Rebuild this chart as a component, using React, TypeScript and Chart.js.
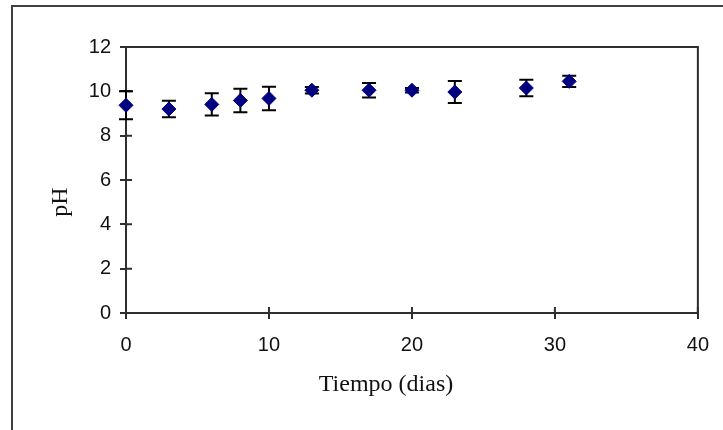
import React, { useEffect, useRef } from "react";
import { Chart, registerables } from "chart.js";

Chart.register(...registerables);

const days = [0, 3, 6, 8, 10, 13, 17, 20, 23, 28, 31];
const phValues = [9.37, 9.2, 9.41, 9.59, 9.68, 10.05, 10.05, 10.05, 9.97, 10.15, 10.45];
const phErrors = [0.63, 0.37, 0.5, 0.53, 0.53, 0.15, 0.33, 0.1, 0.5, 0.37, 0.25];
const xTitle = "Tiempo (dias)";
const yTitle = "pH";

const AXIS_COLOR = "#2e2e2e";

const framePlugin = {
  id: "frameAndExtras",
  beforeDraw(chart: any) {
    const ctx = chart.ctx;
    ctx.save();
    ctx.fillStyle = "#ffffff";
    ctx.fillRect(0, 0, chart.width, chart.height);
    ctx.strokeStyle = "#404040";
    ctx.lineWidth = 2;
    ctx.beginPath();
    ctx.moveTo(12, chart.height + 5);
    ctx.lineTo(12, 6);
    ctx.lineTo(chart.width + 5, 6);
    ctx.stroke();
    ctx.restore();
  },
  beforeDatasetsDraw(chart: any) {
    const ctx = chart.ctx;
    const xs = chart.scales.x;
    const ys = chart.scales.y;
    const area = chart.chartArea;
    ctx.save();
    // plot area box (top and right)
    ctx.strokeStyle = AXIS_COLOR;
    ctx.lineWidth = 2;
    ctx.beginPath();
    ctx.moveTo(area.left, area.top);
    ctx.lineTo(area.right, area.top);
    ctx.lineTo(area.right, area.bottom);
    ctx.stroke();
    // inner halves of the cross tick marks
    ctx.beginPath();
    ys.ticks.forEach((t: any) => {
      const py = ys.getPixelForValue(t.value);
      ctx.moveTo(area.left, py);
      ctx.lineTo(area.left + 6, py);
    });
    xs.ticks.forEach((t: any) => {
      const px = xs.getPixelForValue(t.value);
      ctx.moveTo(px, area.bottom);
      ctx.lineTo(px, area.bottom - 6);
    });
    ctx.stroke();
    // error bars
    ctx.strokeStyle = "#000000";
    ctx.lineWidth = 2;
    ctx.beginPath();
    days.forEach((d, i) => {
      const px = xs.getPixelForValue(d);
      const top = ys.getPixelForValue(phValues[i] + phErrors[i]);
      const bot = ys.getPixelForValue(phValues[i] - phErrors[i]);
      ctx.moveTo(px, top);
      ctx.lineTo(px, bot);
      ctx.moveTo(px - 7, top);
      ctx.lineTo(px + 7, top);
      ctx.moveTo(px - 7, bot);
      ctx.lineTo(px + 7, bot);
    });
    ctx.stroke();
    ctx.restore();
  },
  afterDraw(chart: any) {
    const ctx = chart.ctx;
    const area = chart.chartArea;
    ctx.save();
    ctx.fillStyle = "#111111";
    ctx.font = "24px 'Liberation Serif', 'Times New Roman', serif";
    ctx.textAlign = "center";
    ctx.textBaseline = "middle";
    ctx.fillText(xTitle, area.left + 260, area.bottom + 72);
    ctx.translate(area.left - 65, area.top + 155);
    ctx.rotate(-Math.PI / 2);
    ctx.fillText(yTitle, 0, 0);
    ctx.restore();
  },
};

export default function App() {
  const canvasRef = useRef<HTMLCanvasElement | null>(null);

  useEffect(() => {
    if (!canvasRef.current) return;
    const tickFont = { family: "'Liberation Sans', Arial, sans-serif", size: 20 };
    const chart = new Chart(canvasRef.current, {
      type: "scatter",
      data: {
        datasets: [
          {
            label: "pH",
            data: days.map((d, i) => ({ x: d, y: phValues[i] })),
            pointStyle: "rectRot",
            pointRadius: 7,
            pointHoverRadius: 7,
            backgroundColor: "#000080",
            borderColor: "#000080",
            borderWidth: 1,
            clip: false as any,
          },
        ],
      },
      options: {
        animation: false,
        responsive: false,
        maintainAspectRatio: false,
        events: [],
        layout: { padding: { left: 12, top: 47, right: 23, bottom: 0 } },
        plugins: {
          legend: { display: false },
          tooltip: { enabled: false },
          title: { display: false },
        },
        scales: {
          x: {
            type: "linear",
            min: 0,
            max: 40,
            ticks: { stepSize: 10, font: tickFont, color: "#111111", padding: 14, maxRotation: 0 },
            grid: {
              display: true,
              drawOnChartArea: false,
              drawTicks: true,
              tickLength: 6,
              color: AXIS_COLOR,
              lineWidth: 2,
            },
            border: { display: true, color: AXIS_COLOR, width: 2 },
            title: { display: false },
            afterFit: (scale: any) => {
              scale.height = 117;
            },
          },
          y: {
            type: "linear",
            min: 0,
            max: 12,
            ticks: { stepSize: 2, font: tickFont, color: "#111111", padding: 9 },
            grid: {
              display: true,
              drawOnChartArea: false,
              drawTicks: true,
              tickLength: 6,
              color: AXIS_COLOR,
              lineWidth: 2,
            },
            border: { display: true, color: AXIS_COLOR, width: 2 },
            title: { display: false },
            afterFit: (scale: any) => {
              scale.width = 114;
            },
          },
        },
      },
      plugins: [framePlugin],
    });
    return () => chart.destroy();
  }, []);

  return (
    <div style={{ position: "absolute", left: 0, top: 0, width: 723, height: 430, background: "#fff" }}>
      <canvas ref={canvasRef} width={723} height={430} style={{ width: 723, height: 430, display: "block" }} />
    </div>
  );
}
